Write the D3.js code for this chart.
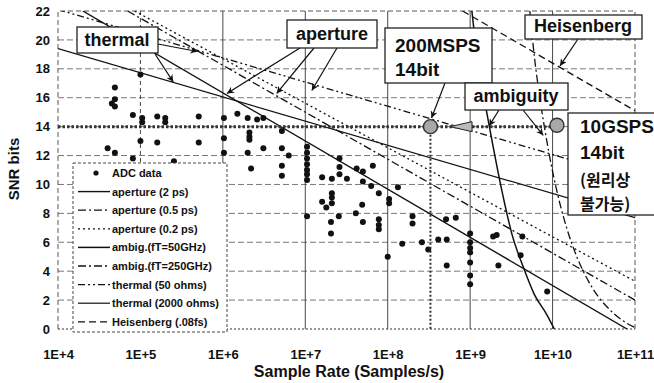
<!DOCTYPE html>
<html>
<head>
<meta charset="utf-8">
<script src="https://cdn.jsdelivr.net/npm/d3@7/dist/d3.min.js"></script>
<style>
  body { margin: 0; background: #fff; }
  svg { display: block; font-family: "Liberation Sans", Arial, sans-serif; font-weight: bold; }
</style>
</head>
<body>
<div id="chart"></div>
<script>
const xTicks = [1e4, 1e5, 1e6, 1e7, 1e8, 1e9, 1e10, 1e11];
const yTicks = [0, 2, 4, 6, 8, 10, 12, 14, 16, 18, 20, 22];

// [sample rate, SNR bits]
const adcData = [
  [4.9e4, 16.7], [4.9e4, 15.9], [4.5e4, 15.6], [4.9e4, 15.4], [4.0e4, 12.5], [4.9e4, 12.2],
  [8.1e4, 11.8], [1e5, 17.6], [8.1e4, 14.8], [1.05e5, 14.6], [1.05e5, 14.3], [1.0e5, 13.0],
  [1.6e5, 14.7], [2.0e5, 14.6], [2.0e5, 14.3], [1.6e5, 12.9], [2.55e5, 11.6], [5.1e5, 14.7],
  [5.1e5, 12.9], [1.03e6, 14.6], [1.03e6, 13.2], [1.03e6, 12.2], [1.5e6, 14.9], [2.0e6, 14.6],
  [2.6e6, 14.5], [3.1e6, 14.6], [2.1e6, 13.6], [2.1e6, 13.3], [2.1e6, 13.1], [2.0e6, 12.2],
  [3.1e6, 12.5], [5.2e6, 13.7], [5.2e6, 12.5], [6.3e6, 12.0], [5.2e6, 11.3], [5.2e6, 10.6],
  [2.2e6, 11.1], [1.05e7, 12.6], [1.05e7, 12.2], [1.05e7, 11.8], [1.05e7, 11.4], [1.05e7, 11.0],
  [1.05e7, 10.7], [1.05e7, 10.3], [1.6e7, 10.5], [2.1e7, 10.4], [2.6e7, 11.8], [2.6e7, 11.2],
  [2.6e7, 10.7], [3.2e7, 10.4], [4.2e7, 11.1], [5.0e7, 10.9], [6.6e7, 11.3], [5.0e7, 10.2],
  [6.3e7, 9.9], [7.8e7, 9.4], [1.04e8, 9.0], [1.04e8, 8.7], [1.33e8, 9.8], [2.1e7, 9.4],
  [2.1e7, 9.1], [2.1e7, 8.7], [1.6e7, 8.8], [1.8e7, 8.4], [4.9e7, 8.6], [4.1e7, 8.0],
  [2.55e7, 7.8], [2.05e7, 7.4], [2.05e7, 6.6], [1.05e7, 7.8], [5.0e7, 7.4], [7.8e7, 7.6],
  [7.8e7, 7.2], [7.8e7, 6.9], [1.0e8, 5.0], [1.5e8, 5.9], [2.0e8, 7.8], [2.0e8, 7.3],
  [2.6e8, 6.0], [3.1e8, 5.5], [4.1e8, 6.2], [5.2e8, 6.2], [5.2e8, 4.4], [5.1e8, 7.6],
  [6.7e8, 7.7], [1.0e9, 6.6], [1.0e9, 6.0], [1.0e9, 5.6], [1.0e9, 5.3], [1.0e9, 4.6],
  [1.0e9, 3.7], [1.0e9, 3.1], [1.9e9, 6.4], [2.1e9, 6.5], [2.2e9, 4.4], [4.3e9, 6.4],
  [4.1e9, 5.1], [8.6e9, 2.6]
];

const aperture2ps = [[2e4, 22], [8e10, 0]];
const aperture05ps = [[7e4, 22], [1e11, 2.0]];
const aperture02ps = [[8.5e4, 22], [1e11, 3.3]];
const ambig50GHz = [[1.05e9, 22], [1.25e9, 18.3], [1.6e9, 14.9], [2.4e9, 9.7], [3.2e9, 6.6],
  [4.4e9, 4.3], [6e9, 2.4], [8.5e9, 1.0], [1.05e10, 0]];
const ambig250GHz = [[5.3e9, 22], [6e9, 18.9], [7e9, 16.0], [8e9, 13.9], [1e10, 10.9],
  [1.25e10, 8.5], [1.5e10, 6.9], [2e10, 4.9], [3e10, 2.9], [5e10, 1.3], [7e10, 0.6], [1e11, 0.1]];
const thermal50 = [[1e4, 22.1], [1e11, 10.4]];
const thermal2000 = [[1e4, 19.4], [1e11, 7.7]];
const heisenberg = [[8.1e8, 22], [1e11, 15.1]];

const targetBits = 14;
const targetPoints = [[3.3e8, 14], [1.13e10, 14.1]];
const backArrowTip = [5.7e8, 14];

const width = 654, height = 383;
const margin = { left: 58, right: 19, top: 11, bottom: 54 };

const svg = d3.select("#chart").append("svg")
  .attr("width", width)
  .attr("height", height);

const x = d3.scaleLog().domain([1e4, 1e11]).range([margin.left, width - margin.right]);
const y = d3.scaleLinear().domain([0, 22]).range([height - margin.bottom, margin.top]);

const x0 = x.range()[0], x1 = x.range()[1];
const y0 = y.range()[0], y1 = y.range()[1];

svg.append("defs").append("clipPath").attr("id", "plot")
  .append("rect").attr("x", x0).attr("y", y1).attr("width", x1 - x0).attr("height", y0 - y1);

svg.select("defs").append("marker")
  .attr("id", "arrow")
  .attr("viewBox", "0 0 10 10")
  .attr("refX", 10).attr("refY", 5)
  .attr("markerWidth", 9).attr("markerHeight", 7)
  .attr("markerUnits", "userSpaceOnUse")
  .attr("orient", "auto")
  .append("path").attr("d", "M0,0 L10,5 L0,10 L3,5 Z").attr("fill", "#111");

// grid
const grid = svg.append("g");
grid.selectAll(".hgrid")
  .data(yTicks.filter(d => d > 0 && d < 22))
  .join("line")
  .attr("x1", x0).attr("x2", x1)
  .attr("y1", d => y(d)).attr("y2", d => y(d))
  .attr("stroke", "#555").attr("stroke-width", 0.8)
  .attr("stroke-dasharray", "6,3");

grid.selectAll(".vgrid")
  .data(xTicks.slice(1, -1))
  .join("line")
  .attr("x1", d => x(d)).attr("x2", d => x(d))
  .attr("y1", y1).attr("y2", y0)
  .attr("stroke", "#333").attr("stroke-width", 0.9)
  .attr("stroke-dasharray", d => d === 1e5 ? "4,3" : null);

// plot border
grid.append("path")
  .attr("d", `M${x0},${y0} L${x0},${y1} L${x1},${y1} L${x1},${y0}`)
  .attr("fill", "none").attr("stroke", "#444").attr("stroke-width", 0.9)
  .attr("stroke-dasharray", "5,3");
grid.append("line")
  .attr("x1", x0).attr("x2", x1).attr("y1", y0).attr("y2", y0)
  .attr("stroke", "#333").attr("stroke-width", 1.2).attr("stroke-dasharray", "2,2");

// axes
const xAxis = svg.append("g")
  .attr("transform", `translate(0,${y0})`)
  .call(d3.axisBottom(x).tickValues(xTicks).tickSize(0).tickPadding(21)
    .tickFormat(d => "1E+" + Math.round(Math.log10(d))));
xAxis.select(".domain").remove();
xAxis.selectAll("text").attr("font-size", 13).attr("font-weight", "bold")
  .attr("font-family", "'Liberation Sans', Arial, sans-serif").attr("fill", "#111");

const yAxis = svg.append("g")
  .attr("transform", `translate(${x0},0)`)
  .call(d3.axisLeft(y).tickValues(yTicks).tickSize(0).tickPadding(8));
yAxis.select(".domain").remove();
yAxis.selectAll("text").attr("font-size", 13).attr("font-weight", "bold")
  .attr("font-family", "'Liberation Sans', Arial, sans-serif").attr("fill", "#111");

svg.append("text")
  .attr("x", 349).attr("y", 377)
  .attr("text-anchor", "middle")
  .attr("font-size", 16).attr("fill", "#111")
  .text("Sample Rate (Samples/s)");

svg.append("text")
  .attr("transform", "translate(19,169) rotate(-90)")
  .attr("text-anchor", "middle")
  .attr("font-size", 15).attr("fill", "#111")
  .text("SNR bits");

// model lines
const series = [
  { name: "aperture (2 ps)", data: aperture2ps, dash: null, w: 1.4 },
  { name: "aperture (0.5 ps)", data: aperture05ps, dash: "8,3,2,3", w: 1.3 },
  { name: "aperture (0.2 ps)", data: aperture02ps, dash: "2,3", w: 1.3 },
  { name: "ambig.(fT=50GHz)", data: ambig50GHz, dash: null, w: 1.5 },
  { name: "ambig.(fT=250GHz)", data: ambig250GHz, dash: "8,3,2,3", w: 1.3 },
  { name: "thermal (50 ohms)", data: thermal50, dash: "7,3,2,3,2,3", w: 1.3 },
  { name: "thermal (2000 ohms)", data: thermal2000, dash: null, w: 1.2 },
  { name: "Heisenberg (.08fs)", data: heisenberg, dash: "7,4", w: 1.3 }
];

const line = d3.line()
  .x(d => x(d[0]))
  .y(d => y(d[1]))
  .curve(d3.curveMonotoneX);

const plot = svg.append("g").attr("clip-path", "url(#plot)");

plot.selectAll(".series")
  .data(series)
  .join("path")
  .attr("d", d => line(d.data))
  .attr("fill", "none")
  .attr("stroke", "#111")
  .attr("stroke-width", d => d.w)
  .attr("stroke-dasharray", d => d.dash);

plot.selectAll(".adc")
  .data(adcData)
  .join("circle")
  .attr("cx", d => x(d[0]))
  .attr("cy", d => y(d[1]))
  .attr("r", 3)
  .attr("fill", "#111");

// 14 bit target line
plot.append("line")
  .attr("x1", x0).attr("x2", x(targetPoints[1][0]))
  .attr("y1", y(targetBits)).attr("y2", y(targetBits))
  .attr("stroke", "#333").attr("stroke-width", 3)
  .attr("stroke-dasharray", "2.5,2");

plot.append("line")
  .attr("x1", x(targetPoints[0][0])).attr("x2", x(targetPoints[0][0]))
  .attr("y1", y(targetPoints[0][1])).attr("y2", y0)
  .attr("stroke", "#333").attr("stroke-width", 2)
  .attr("stroke-dasharray", "2,2");

const tipX = x(backArrowTip[0]), tipY = y(backArrowTip[1]);
svg.append("path")
  .attr("d", `M${tipX},${tipY} L${tipX + 22},${tipY - 5} L${tipX + 22},${tipY + 5} Z`)
  .attr("fill", "#bbb").attr("stroke", "#222").attr("stroke-width", 1);

svg.selectAll(".target")
  .data(targetPoints)
  .join("circle")
  .attr("cx", d => x(d[0]))
  .attr("cy", d => y(d[1]))
  .attr("r", 7)
  .attr("fill", "#a8a8a8")
  .attr("stroke", "#333").attr("stroke-width", 1.4);

// legend
const legend = svg.append("g");
legend.append("rect")
  .attr("x", 73).attr("y", 163).attr("width", 154).attr("height", 169)
  .attr("fill", "#fff").attr("stroke", "#444").attr("stroke-width", 1)
  .attr("stroke-dasharray", "3,2");

const legendItems = [{ name: "ADC data", dot: true }].concat(series);
const rowY = i => 173 + i * 18.6;

legendItems.forEach((d, i) => {
  if (d.dot) {
    legend.append("circle").attr("cx", 96).attr("cy", rowY(i)).attr("r", 2.6).attr("fill", "#111");
  } else {
    legend.append("line")
      .attr("x1", 78).attr("x2", 110).attr("y1", rowY(i)).attr("y2", rowY(i))
      .attr("stroke", "#111").attr("stroke-width", d.w)
      .attr("stroke-dasharray", d.dash);
  }
  legend.append("text")
    .attr("x", 112).attr("y", rowY(i) + 4)
    .attr("font-size", 11).attr("fill", "#111")
    .text(d.name);
});

// annotations
const notes = [
  { box: [77, 27, 81, 26], lines: ["thermal"], size: 18, anchor: "middle", tx: 117, ty: [46] },
  { box: [287, 20, 90, 28], lines: ["aperture"], size: 18, anchor: "middle", tx: 332, ty: [40] },
  { box: [385, 28, 107, 55], lines: ["200MSPS", "14bit"], size: 19, anchor: "start", tx: 395, ty: [52, 76] },
  { box: [465, 83, 103, 27], lines: ["ambiguity"], size: 18, anchor: "middle", tx: 516, ty: [102] },
  { box: [525, 15, 117, 24], lines: ["Heisenberg"], size: 18, anchor: "middle", tx: 583, ty: [32] },
  { box: [568, 113, 92, 102], lines: ["10GSPS", "14bit", "(원리상", "불가능)"], size: 19, anchor: "start", tx: 580, ty: [133, 159, 186, 210] }
];

const arrows = [
  { from: [158, 44], to: [4.9e5, 19.2] },
  { from: [155, 54], to: [2.5e5, 17.1] },
  { from: [300, 48], to: [1.12e6, 16.3] },
  { from: [314, 48], to: [4.5e6, 16.3] },
  { from: [337, 48], to: [1.2e7, 16.5] },
  { from: [445, 83], to: [3.4e8, 14.6] },
  { from: [499, 110], to: [1.7e9, 14.05] },
  { from: [523, 110], to: [7.7e9, 13.4] },
  { from: [578, 39], to: [1.23e10, 18.2] }
];

svg.selectAll(".arrow")
  .data(arrows)
  .join("line")
  .attr("x1", d => d.from[0]).attr("y1", d => d.from[1])
  .attr("x2", d => x(d.to[0])).attr("y2", d => y(d.to[1]))
  .attr("stroke", "#111").attr("stroke-width", 1.2)
  .attr("marker-end", "url(#arrow)");

const noteGroups = svg.selectAll(".note")
  .data(notes)
  .join("g");

noteGroups.append("rect")
  .attr("x", d => d.box[0]).attr("y", d => d.box[1])
  .attr("width", d => d.box[2]).attr("height", d => d.box[3])
  .attr("fill", "#fff").attr("stroke", "#222").attr("stroke-width", 1.3);

noteGroups.each(function (d) {
  const g = d3.select(this);
  d.lines.forEach((t, i) => {
    const korean = /[가-힣]/.test(t);
    g.append("text")
      .attr("x", d.tx).attr("y", d.ty[i])
      .attr("text-anchor", d.anchor)
      .attr("font-size", korean ? 16 : d.size)
      .attr("font-family", korean ? "'Noto Sans CJK KR', sans-serif" : null)
      .attr("fill", "#111")
      .text(t);
  });
});
</script>
</body>
</html>
